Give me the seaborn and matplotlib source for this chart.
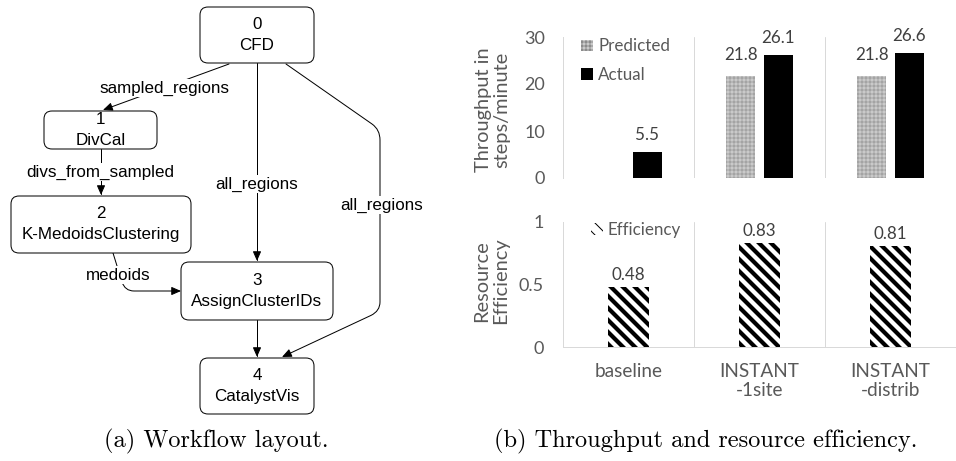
import numpy as np
import pandas as pd
import matplotlib
matplotlib.use("Agg")
import matplotlib.pyplot as plt
from matplotlib.patches import FancyBboxPatch, FancyArrowPatch, Patch
from matplotlib.path import Path
import seaborn as sns

# ---------------- data ----------------
categories = ["baseline", "INSTANT\n-1site", "INSTANT\n-distrib"]
series_names = ["Predicted", "Actual"]
predicted = [np.nan, 21.8, 21.8]
actual = [5.5, 26.1, 26.6]
efficiency = [0.48, 0.83, 0.81]
throughput_ticks = [0, 10, 20, 30]
efficiency_ticks = [0, 0.5, 1]
efficiency_ticklabels = ["0", "0.5", "1"]

node_ids = ["0", "1", "2", "3", "4"]
node_names = ["CFD", "DivCal", "K-MedoidsClustering", "AssignClusterIDs", "CatalystVis"]
edge_src = [0, 1, 0, 0, 2, 3]
edge_dst = [1, 2, 3, 4, 3, 4]
edge_labels = ["sampled_regions", "divs_from_sampled", "all_regions", "all_regions", "medoids", ""]
captions = ["(a) Workflow layout.", "(b) Throughput and resource efficiency."]

# ---------------- style ----------------
sns.set_style("white")
plt.rcParams["font.family"] = ["Lato", "DejaVu Sans"]
GRAY_TXT = "#595959"
VAL_TXT = "#404040"
GRID = "#d9d9d9"
FS = 17

W, H = 956, 461
fig = plt.figure(figsize=(W / 72, H / 72), dpi=72)

# ---------------- workflow diagram (pixel coordinates) ----------------
axd = fig.add_axes([0, 0, 1, 1])
axd.set_xlim(0, W)
axd.set_ylim(H, 0)
axd.axis("off")

box_geom = [(200, 7, 314, 63), (44, 111, 157, 149), (11, 196, 191, 253),
            (181, 262, 333, 320), (200, 358, 314, 414)]
diag_font = dict(family=["Liberation Sans", "DejaVu Sans"], fontsize=FS, color="black")

for nid, name, (x0, y0, x1, y1) in zip(node_ids, node_names, box_geom):
    axd.add_patch(FancyBboxPatch((x0, y0), x1 - x0, y1 - y0,
                                 boxstyle="round,pad=0,rounding_size=8",
                                 fc="white", ec="black", lw=1.0, zorder=2))
    cx, cy = (x0 + x1) / 2, (y0 + y1) / 2
    axd.text(cx, cy - 10.5, nid, ha="center", va="center", zorder=3, **diag_font)
    axd.text(cx, cy + 10.5, name, ha="center", va="center", zorder=3, **diag_font)

M, L, C = Path.MOVETO, Path.LINETO, Path.CURVE3
edge_paths = [
    Path([(229, 64), (103, 110)], [M, L]),
    Path([(101, 149), (101, 195)], [M, L]),
    Path([(257, 63), (257, 261)], [M, L]),
    Path([(286, 64), (372, 124), (380, 129.6), (380, 140), (380, 302),
          (380, 311), (371, 315.4), (282, 357)], [M, L, C, C, L, C, C, L]),
    Path([(113, 253), (122, 282), (125, 291), (134, 291), (181, 291)],
         [M, L, C, C, L]),
    Path([(257, 320), (257, 357)], [M, L]),
]
label_pos = [(164, 88), (100, 172), (257, 184), (382, 205), (118, 275), None]

for p, lab, lp in zip(edge_paths, edge_labels, label_pos):
    axd.add_patch(FancyArrowPatch(path=p, arrowstyle="-|>,head_length=8,head_width=3.5",
                                  mutation_scale=1, lw=1.0, color="black", zorder=1))
    if lab:
        axd.text(lp[0], lp[1], lab, ha="center", va="center", zorder=4,
                 bbox=dict(fc="white", ec="none", pad=1), **diag_font)

cap_font = dict(family=["cmr10", "DejaVu Serif"], fontsize=24.4, color="black")
axd.text(216, 441, captions[0], ha="center", va="center", **cap_font)
axd.text(706, 441, captions[1], ha="center", va="center", **cap_font)

# ---------------- throughput chart ----------------
df_t = pd.DataFrame({
    "category": categories * 2,
    "series": [series_names[0]] * 3 + [series_names[1]] * 3,
    "value": predicted + actual,
})
axt = fig.add_axes([563 / W, 1 - 178 / H, 393 / W, 141 / H])
sns.barplot(data=df_t, x="category", y="value", hue="series", order=categories,
            hue_order=series_names, palette={"Predicted": "#cfcfcf", "Actual": "black"},
            width=0.57, gap=0.22, dodge=True, errorbar=None, saturation=1,
            legend=False, ax=axt)

pred_style = dict(facecolor="#cacaca", edgecolor="#8c8c8c", hatch="+++", linewidth=0)
for bar in axt.containers[0]:
    bar.set(**pred_style)
    if hasattr(bar, "set_hatch_linewidth"):
        bar.set_hatch_linewidth(0.6)
for bar in axt.containers[1]:
    bar.set_linewidth(0)

for cont, pad in zip(axt.containers, [13, 9]):
    labs = [f"{v:.1f}" if np.isfinite(v) else "" for v in cont.datavalues]
    axt.bar_label(cont, labels=labs, padding=pad, fontsize=FS, color=VAL_TXT)

axt.set_xlim(-0.5, 2.5)
axt.set_ylim(0, 30)
axt.set_yticks(throughput_ticks)
axt.set_xticks([])
axt.set_xlabel("")
axt.set_ylabel("")
for s in ["top", "right", "bottom"]:
    axt.spines[s].set_visible(False)
axt.spines["left"].set_color(GRID)
axt.spines["left"].set_linewidth(1)
for xv in [0.5, 1.5]:
    axt.axvline(xv, color=GRID, lw=1, zorder=0)
axt.tick_params(axis="y", length=0, pad=18, labelsize=18, labelcolor=GRAY_TXT)

h_pred = Patch(**pred_style)
h_act = Patch(facecolor="black", linewidth=0)
axt.legend([h_pred, h_act], series_names, loc="upper left",
           bbox_to_anchor=(0.046, 0.99), frameon=False,
           prop={"family": "Lato", "size": FS}, labelcolor=GRAY_TXT,
           handlelength=0.7, handleheight=0.7, handletextpad=0.3,
           labelspacing=0.75, borderaxespad=0, borderpad=0)

# ---------------- efficiency chart ----------------
df_e = pd.DataFrame({"category": categories, "value": efficiency})
axb = fig.add_axes([563 / W, 1 - 347 / H, 393 / W, 125 / H])
sns.barplot(data=df_e, x="category", y="value", order=categories, color="white",
            width=0.32, errorbar=None, saturation=1, ax=axb)
eff_style = dict(facecolor="white", edgecolor="black", hatch="\\\\", linewidth=0)
for bar in axb.containers[0]:
    bar.set(**eff_style)
    if hasattr(bar, "set_hatch_linewidth"):
        bar.set_hatch_linewidth(4.2)
axb.bar_label(axb.containers[0], labels=[f"{v:.2f}" for v in efficiency],
              padding=4, fontsize=FS, color=VAL_TXT)

axb.set_xlim(-0.5, 2.5)
axb.set_ylim(0, 1)
axb.set_yticks(efficiency_ticks)
axb.set_yticklabels(efficiency_ticklabels)
axb.set_xlabel("")
axb.set_ylabel("")
for s in ["top", "right"]:
    axb.spines[s].set_visible(False)
for s in ["left", "bottom"]:
    axb.spines[s].set_color(GRID)
    axb.spines[s].set_linewidth(1)
for xv in [0.5, 1.5]:
    axb.axvline(xv, color=GRID, lw=1, zorder=0)
axb.tick_params(axis="y", length=0, pad=19, labelsize=18, labelcolor=GRAY_TXT)
axb.tick_params(axis="x", length=0, pad=16, labelsize=19, labelcolor=GRAY_TXT)
for t in axb.get_xticklabels():
    t.set_linespacing(1.15)

h_eff = Patch(facecolor="white", edgecolor="black", hatch="\\\\", linewidth=0)
if hasattr(h_eff, "set_hatch_linewidth"):
    h_eff.set_hatch_linewidth(4.2)
axb.legend([h_eff], ["Efficiency"], loc="upper left", bbox_to_anchor=(0.071, 1.0),
           frameon=False, prop={"family": "Lato", "size": FS}, labelcolor=GRAY_TXT,
           handlelength=0.7, handleheight=0.7, handletextpad=0.3,
           borderaxespad=0, borderpad=0)

# y-axis titles
fig.text(493 / W, 1 - 110 / H, "Throughput in\nsteps/minute", rotation=90,
         ha="center", va="center", fontsize=20, color=GRAY_TXT, linespacing=1.1)
fig.text(491 / W, 1 - 281 / H, "Resource\nEfficiency", rotation=90,
         ha="center", va="center", fontsize=20, color=GRAY_TXT, linespacing=1.1)

fig.savefig("out.png", dpi=72)
